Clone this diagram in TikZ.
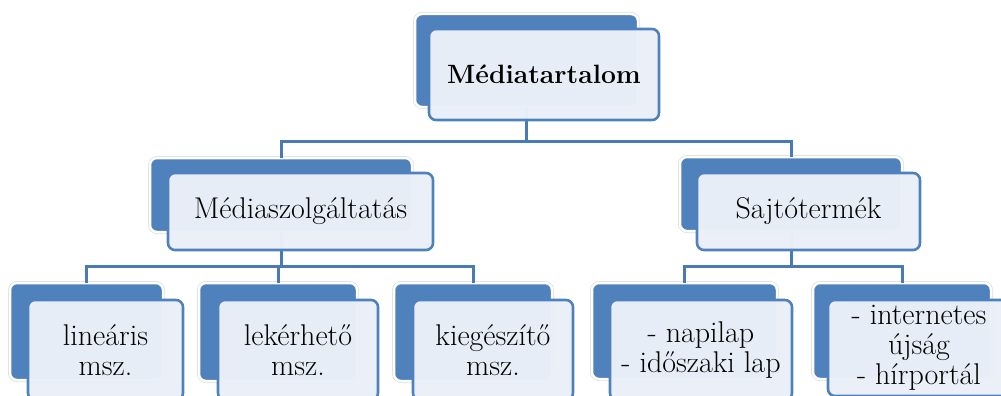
\documentclass[tikz,border=0pt]{standalone}
\usepackage{fontspec}
\definecolor{ob}{HTML}{4F81BD}
\definecolor{fr}{HTML}{EBF0F8}
\definecolor{ln}{HTML}{4A7AB5}
\begin{document}
\begin{tikzpicture}[x=1pt,y=-1pt,
 backbox/.style={rectangle, rounded corners=7pt, fill=ob, draw=white, line width=2.5pt,
   preaction={draw=black!13, line width=4pt}, anchor=north west, inner sep=0pt, outer sep=0pt},
 frontbox/.style={rectangle, rounded corners=7pt, fill=fr, fill opacity=0.98, text opacity=1,
   draw=ob, draw opacity=1, line width=2.6pt, anchor=north west, inner sep=0pt, outer sep=0pt,
   align=center, font=\fontsize{30}{30}\selectfont},
 conn/.style={draw=ln, line width=3pt}]
\useasboundingbox (0,0) rectangle (1001,396);
% back boxes
\node[backbox, minimum width=223pt, minimum height=93pt] (tb) at (415,14) {};
\node[backbox, minimum width=262pt, minimum height=74pt] (ml) at (150,158) {};
\node[backbox, minimum width=222pt, minimum height=74pt] (mr) at (680,157) {};
\node[backbox, minimum width=153pt, minimum height=97pt] (b1) at (10,283) {};
\node[backbox, minimum width=158pt, minimum height=98pt] (b2) at (199,283) {};
\node[backbox, minimum width=158pt, minimum height=98pt] (b3) at (394,283) {};
\node[backbox, minimum width=185pt, minimum height=96pt] (b4) at (592,283) {};
\node[backbox, minimum width=178pt, minimum height=96pt] (b5) at (813,283) {};
% connectors
\draw[conn] (tb.south) -- (tb.south |- 0,141);
\draw[conn] (ml.north) -- (ml.north |- 0,141) -- (mr.north |- 0,141) -- (mr.north);
\draw[conn] (ml.south) -- (ml.south |- 0,266);
\draw[conn] (b1.north) -- (b1.north |- 0,266) -- (b3.north |- 0,266) -- (b3.north);
\draw[conn] (b2.north) -- (b2.north |- 0,266);
\draw[conn] (mr.south) -- (mr.south |- 0,266);
\draw[conn] (b4.north) -- (b4.north |- 0,266) -- (b5.north |- 0,266) -- (b5.north);
% front boxes
\node[frontbox, minimum width=230pt, minimum height=91pt, font=\fontsize{26.5}{30}\selectfont\bfseries] (tf) at (429,29) {Médiatartalom};
\node[frontbox, minimum width=265pt, minimum height=77pt] (mlf) at (168,173) {Médiaszolgáltatás};
\node[frontbox, minimum width=223pt, minimum height=77pt] (mrf) at (697,173) {Sajtótermék};
\node[frontbox, minimum width=155pt, minimum height=100pt] (b1f) at (28,300) {lineáris\\msz.};
\node[frontbox, minimum width=160pt, minimum height=100pt] (b2f) at (218,300) {lekérhető\\msz.};
\node[frontbox, minimum width=160pt, minimum height=100pt] (b3f) at (413,300) {kiegészítő\\msz.};
\node[frontbox, minimum width=182pt, minimum height=100pt] (b4f) at (610,300) {- napilap\\- időszaki lap};
\node[frontbox, minimum width=182pt, minimum height=96pt] (b5f) at (828,300) {- internetes\\újság\\- hírportál};
\end{tikzpicture}
\end{document}
